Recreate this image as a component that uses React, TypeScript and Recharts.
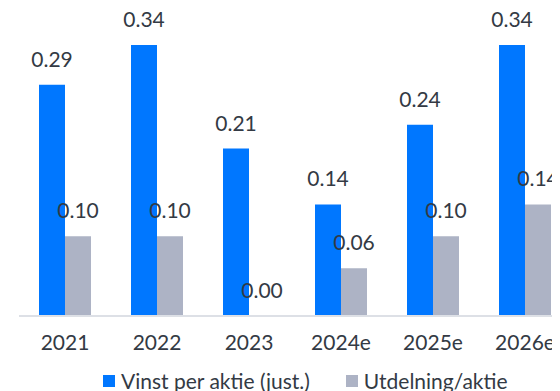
import { BarChart, Bar, XAxis, YAxis, LabelList, Legend } from "recharts";

// ── Data ────────────────────────────────────────────────────────────────
const years = ["2021", "2022", "2023", "2024e", "2025e", "2026e"];
const eps = [0.29, 0.34, 0.21, 0.14, 0.24, 0.34];
const dividend = [0.1, 0.1, 0.0, 0.06, 0.1, 0.14];

const BLUE = "#0077ff";
const GREY = "#adb3c5";
const TEXT = "#333a44";
const FONT = "Lato, 'Noto Sans', sans-serif";
const FS = 21;

const rows = years.map((y, i) => ({ year: y, eps: eps[i], div: dividend[i] }));

const legendItems = [
  { label: "Vinst per aktie (just.)", color: BLUE },
  { label: "Utdelning/aktie", color: GREY },
];

function LegendBox() {
  return (
    <div
      style={{
        display: "flex",
        gap: 36,
        paddingLeft: 84,
        paddingTop: 14,
        fontFamily: FONT,
        fontSize: FS,
        color: TEXT,
        lineHeight: "21px",
      }}
    >
      {legendItems.map((it) => (
        <span key={it.label} style={{ display: "flex", alignItems: "center" }}>
          <span
            style={{
              width: 12,
              height: 12,
              background: it.color,
              marginRight: 6,
              display: "inline-block",
            }}
          />
          {it.label}
        </span>
      ))}
    </div>
  );
}

const fmt = (v: number) => Number(v).toFixed(2);

export default function App() {
  return (
    <div style={{ width: 552, height: 383, overflow: "hidden" }}>
      <BarChart
        width={563}
        height={383}
        data={rows}
        margin={{ top: 37, right: 0, bottom: 0, left: 11 }}
        barCategoryGap={20}
        barGap={0}
      >
        <XAxis
          dataKey="year"
          axisLine={{ stroke: "#dde0e6", strokeWidth: 2 }}
          tickLine={false}
          tickMargin={13}
          height={40}
          tick={{ fill: TEXT, fontSize: FS, fontFamily: FONT }}
        />
        <YAxis hide domain={[0, 0.34]} />
        <Legend
          verticalAlign="bottom"
          content={<LegendBox />}
          wrapperStyle={{ height: 35 }}
        />
        <Bar dataKey="eps" fill={BLUE} isAnimationActive={false}>
          <LabelList
            dataKey="eps"
            position="top"
            offset={18}
            formatter={fmt}
            style={{ fill: TEXT, fontSize: FS, fontFamily: FONT }}
          />
        </Bar>
        <Bar
          dataKey="div"
          fill={GREY}
          minPointSize={0.01}
          isAnimationActive={false}
        >
          <LabelList
            dataKey="div"
            position="top"
            offset={18}
            formatter={fmt}
            style={{ fill: TEXT, fontSize: FS, fontFamily: FONT }}
          />
        </Bar>
      </BarChart>
    </div>
  );
}
